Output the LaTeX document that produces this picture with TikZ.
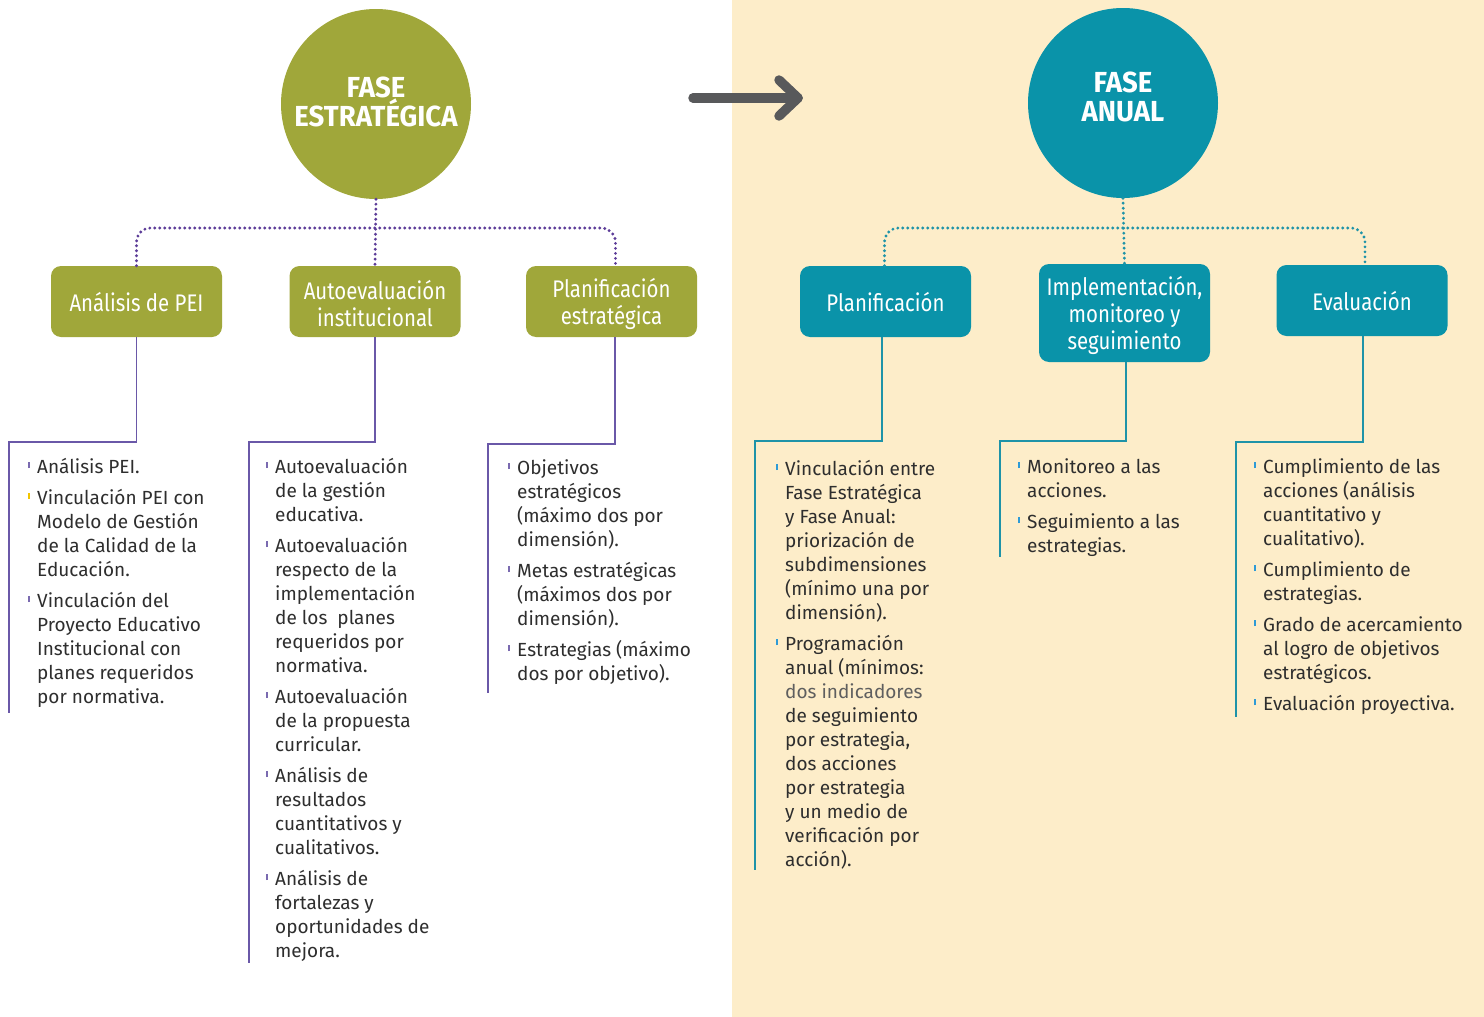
\documentclass[tikz,border=0pt]{standalone}
\usepackage{fontspec}
\setmainfont{Fira Sans}
\newfontfamily\boxfont[FakeStretch=0.85]{Fira Sans}
\newfontfamily\titlefont[FakeStretch=0.95]{Fira Sans}
\usetikzlibrary{calc}
\definecolor{olive}{HTML}{A0A73A}
\definecolor{tealc}{HTML}{0A93A9}
\definecolor{cream}{HTML}{FDEDC9}
\definecolor{purp}{HTML}{5C3C98}
\definecolor{purpline}{HTML}{6A58A8}
\definecolor{tealline}{HTML}{1E93A8}
\definecolor{arrgray}{HTML}{58595B}
\definecolor{txt}{HTML}{2E2E2E}
\definecolor{txtgray}{HTML}{5F5F5F}
\definecolor{bulP}{HTML}{7A6AB0}
\definecolor{bulY}{HTML}{F2C500}
\definecolor{bulB}{HTML}{2E9BD6}
\newcommand\bl[1]{\llap{\textcolor{#1}{\rule[5pt]{2.2pt}{6pt}}\hspace{7pt}}}
\newcommand\fst{\rule{0pt}{19pt}}
\begin{document}
\begin{tikzpicture}[x=1pt,y=-1pt,
  phase/.style={circle, minimum size=190pt, inner sep=0pt},
  ptitle/.style={text=white, align=center, inner sep=0pt, font=\titlefont\bfseries\fontsize{29}{29}\selectfont},
  boxbase/.style={rectangle, rounded corners=10pt, minimum width=171pt, minimum height=71pt, inner sep=0pt},
  boxP/.style={boxbase, fill=olive},
  boxT/.style={boxbase, fill=tealc},
  boxtxt/.style={text=white, align=center, inner sep=0pt, font=\boxfont\fontsize{24}{27}\selectfont},
  dotP/.style={draw=purp, line width=3.2pt, dash pattern=on 0pt off 5pt, line cap=round, rounded corners=14pt},
  dotT/.style={draw=tealline, line width=3.2pt, dash pattern=on 0pt off 5pt, line cap=round, rounded corners=14pt},
  solP/.style={draw=purpline, line width=1.5pt},
  solT/.style={draw=tealline, line width=1.5pt},
  list/.style={anchor=north west, align=left, inner sep=0pt, text=txt, font=\fontsize{19}{24}\selectfont}
]
\useasboundingbox (0,0) rectangle (1484,1017);
\fill[white] (0,0) rectangle (732,1017);
\fill[cream] (732,0) rectangle (1484,1017);

% arrow
\coordinate (arrS) at (693,98);
\coordinate (arrE) at (798,98);
\coordinate (arrU) at (779,80);
\coordinate (arrD) at (779,116);
\draw[arrgray, line width=9.5pt, line cap=round, line join=round] (arrS) -- (arrE);
\draw[arrgray, line width=9.5pt, line cap=round, line join=round] (arrU) -- (arrE) -- (arrD);

% phase circles
\node[phase, fill=olive] (fe) at (376,104) {};
\node[ptitle] (fet) at (376,102) {FASE\\ESTRATÉGICA};
\node[phase, fill=tealc] (fa) at (1123,103) {};
\node[ptitle] (fat) at (1123,97) {FASE\\ANUAL};

% boxes
\node[boxP] (b1) at (136.5,301.5) {};
\node[boxP] (b2) at (375,301.5) {};
\node[boxP] (b3) at (611.5,301.5) {};
\node[boxT] (b4) at (885.5,301.5) {};
\node[boxT, minimum height=98pt] (b5) at (1124.5,313) {};
\node[boxT] (b6) at (1362,300.5) {};
\node[boxtxt] (b1t) at ($(b1)+(0,1)$) {Análisis de PEI};
\node[boxtxt] (b2t) at ($(b2)+(0,2)$) {Autoevaluación\\institucional};
\node[boxtxt] (b3t) at ($(b3)+(0,2)$) {Planificación\\estratégica};
\node[boxtxt] (b4t) at ($(b4)+(0,1)$) {Planificación};
\node[boxtxt] (b5t) at ($(b5)+(0,2.5)$) {Implementación,\\monitoreo y\\seguimiento};
\node[boxtxt] (b6t) at ($(b6)+(0,1)$) {Evaluación};

% dotted connectors
\coordinate (jl) at (375,228);
\coordinate (jr) at (1124,228);
\draw[dotP] (fe.south) -- (b2.north);
\draw[dotP] (b1.north) |- (jl) -| ($(b3.north)+(4,0)$);
\draw[dotT] (fa.south) -- (b5.north);
\draw[dotT] ($(b4.north)+(-1,0)$) |- (jr) -| ($(b6.north)+(3,0)$);

% solid connectors to lists
\coordinate (e1) at (9,713);
\coordinate (e2) at (249,963);
\coordinate (e3) at (488,693);
\coordinate (e4) at (755,870);
\coordinate (e5) at (1000,557);
\coordinate (e6) at (1236,717);
\draw[solP] (b1.south) -- (136.5,442) -- (e1 |- 0,442) -- (e1);
\draw[solP] (b2.south) -- (375,442) -- (e2 |- 0,442) -- (e2);
\draw[solP] ($(b3.south)+(3.5,0)$) -- (615,444) -- (e3 |- 0,444) -- (e3);
\draw[solT] ($(b4.south)+(-3.5,0)$) -- (882,441) -- (e4 |- 0,441) -- (e4);
\draw[solT] ($(b5.south)+(1.5,0)$) -- (1126,441) -- (e5 |- 0,441) -- (e5);
\draw[solT] ($(b6.south)+(1,0)$) -- (1363,442) -- (e6 |- 0,442) -- (e6);

% lists
\node[list] (l1) at (37,454) {\fst\bl{bulP}Análisis PEI.\\[7pt]
\bl{bulY}Vinculación PEI con\\Modelo de Gestión\\de la Calidad de la\\Educación.\\[7pt]
\bl{bulP}Vinculación del\\Proyecto Educativo\\Institucional con\\planes requeridos\\por normativa.};

\node[list] (l2) at (275,454) {\fst\bl{bulP}Autoevaluación\\de la gestión\\educativa.\\[7pt]
\bl{bulP}Autoevaluación\\respecto de la\\implementación\\de los\ \ planes\\requeridos por\\normativa.\\[7pt]
\bl{bulP}Autoevaluación\\de la propuesta\\curricular.\\[7pt]
\bl{bulP}Análisis de\\resultados\\cuantitativos y\\cualitativos.\\[7pt]
\bl{bulP}Análisis de\\fortalezas y\\oportunidades de\\mejora.};

\node[list] (l3) at (517,455) {\fst\bl{bulP}Objetivos\\estratégicos\\(máximo dos por\\dimensión).\\[7pt]
\bl{bulP}Metas estratégicas\\(máximos dos por\\dimensión).\\[7pt]
\bl{bulP}Estrategias (máximo\\dos por objetivo).};

\node[list] (l4) at (785,456) {\fst\bl{bulB}Vinculación entre\\Fase Estratégica\\y Fase Anual:\\priorización de\\subdimensiones\\(mínimo una por\\dimensión).\\[7pt]
\bl{bulB}Programación\\anual (mínimos:\\\textcolor{txtgray}{dos indicadores}\\de seguimiento\\por estrategia,\\dos acciones\\por estrategia\\y un medio de\\verificación por\\acción).};

\node[list] (l5) at (1027,454) {\fst\bl{bulB}Monitoreo a las\\acciones.\\[7pt]
\bl{bulB}Seguimiento a las\\estrategias.};

\node[list] (l6) at (1263,454) {\fst\bl{bulB}Cumplimiento de las\\acciones (análisis\\cuantitativo y\\cualitativo).\\[7pt]
\bl{bulB}Cumplimiento de\\estrategias.\\[7pt]
\bl{bulB}Grado de acercamiento\\al logro de objetivos\\estratégicos.\\[7pt]
\bl{bulB}Evaluación proyectiva.};
\end{tikzpicture}
\end{document}
